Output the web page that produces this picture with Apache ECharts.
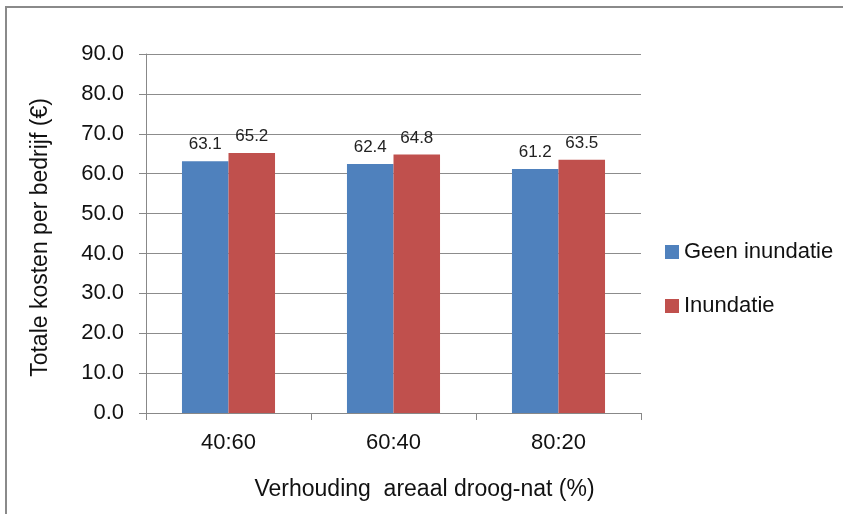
<!DOCTYPE html>
<html>
<head>
<meta charset="utf-8">
<script src="https://cdn.jsdelivr.net/npm/echarts@6/dist/echarts.min.js"></script>
<style>html,body{margin:0;padding:0;background:#fff;}#c{width:843px;height:514px;}</style>
</head>
<body>
<div id="c"></div>
<script>
var categories = ['40:60', '60:40', '80:20'];
var seriesNames = ['Geen inundatie', 'Inundatie'];
var geenInundatie = [63.1, 62.4, 61.2];
var inundatie = [65.2, 64.8, 63.5];
var yTicks = { min: 0, max: 90, interval: 10 };
var xTitle = 'Verhouding  areaal droog-nat (%)';
var yTitle = 'Totale kosten per bedrijf (€)';

var font = '"Liberation Sans", Arial, sans-serif';
var chart = echarts.init(document.getElementById('c'), null, { renderer: 'canvas' });
var labelCfg = {
  show: true, position: 'top', distance: 8,
  fontFamily: font, fontSize: 17, color: '#222',
  formatter: function (p) { return p.value.toFixed(1); }
};
chart.setOption({
  animation: false,
  backgroundColor: '#fff',
  graphic: [{
    type: 'rect', shape: { x: 6, y: 7, width: 900, height: 600 },
    style: { fill: 'none', stroke: '#8a8a8a', lineWidth: 2 }, silent: true
  }],
  grid: { left: 146, top: 54, right: 202, bottom: 101, containLabel: false },
  legend: {
    orient: 'vertical', left: 660, top: 236, itemWidth: 14, itemHeight: 14, itemGap: 32,
    icon: 'rect',
    textStyle: { fontFamily: font, fontSize: 22, color: '#111' },
    data: seriesNames
  },
  xAxis: {
    type: 'category', data: categories,
    name: xTitle, nameLocation: 'middle', nameGap: 65,
    nameTextStyle: { fontFamily: font, fontSize: 23, color: '#111', padding: [0, 0, 0, 62] },
    axisLine: { lineStyle: { color: '#888', width: 1 } },
    axisTick: { show: true, length: 7, lineStyle: { color: '#888' } },
    axisLabel: { fontFamily: font, fontSize: 22, color: '#111', margin: 19 }
  },
  yAxis: {
    type: 'value', min: yTicks.min, max: yTicks.max, interval: yTicks.interval,
    name: yTitle, nameLocation: 'middle', nameGap: 94, nameRotate: 90,
    nameTextStyle: { fontFamily: font, fontSize: 23, color: '#111', padding: [0, 8, 0, 0] },
    axisLine: { show: true, lineStyle: { color: '#888', width: 1 } },
    axisTick: { show: true, length: 7, lineStyle: { color: '#888' } },
    axisLabel: { fontFamily: font, fontSize: 22, color: '#111', margin: 22,
      formatter: function (v) { return v.toFixed(1); } },
    splitLine: { show: true, lineStyle: { color: '#8c8c8c', width: 1 } }
  },
  series: [
    { name: seriesNames[0], type: 'bar', data: geenInundatie, barGap: '0%', barCategoryGap: '43.6%',
      itemStyle: { color: '#4F81BD' }, label: labelCfg },
    { name: seriesNames[1], type: 'bar', data: inundatie, barGap: '0%', barCategoryGap: '43.6%',
      itemStyle: { color: '#C0504D' }, label: labelCfg }
  ]
});
</script>
</body>
</html>
